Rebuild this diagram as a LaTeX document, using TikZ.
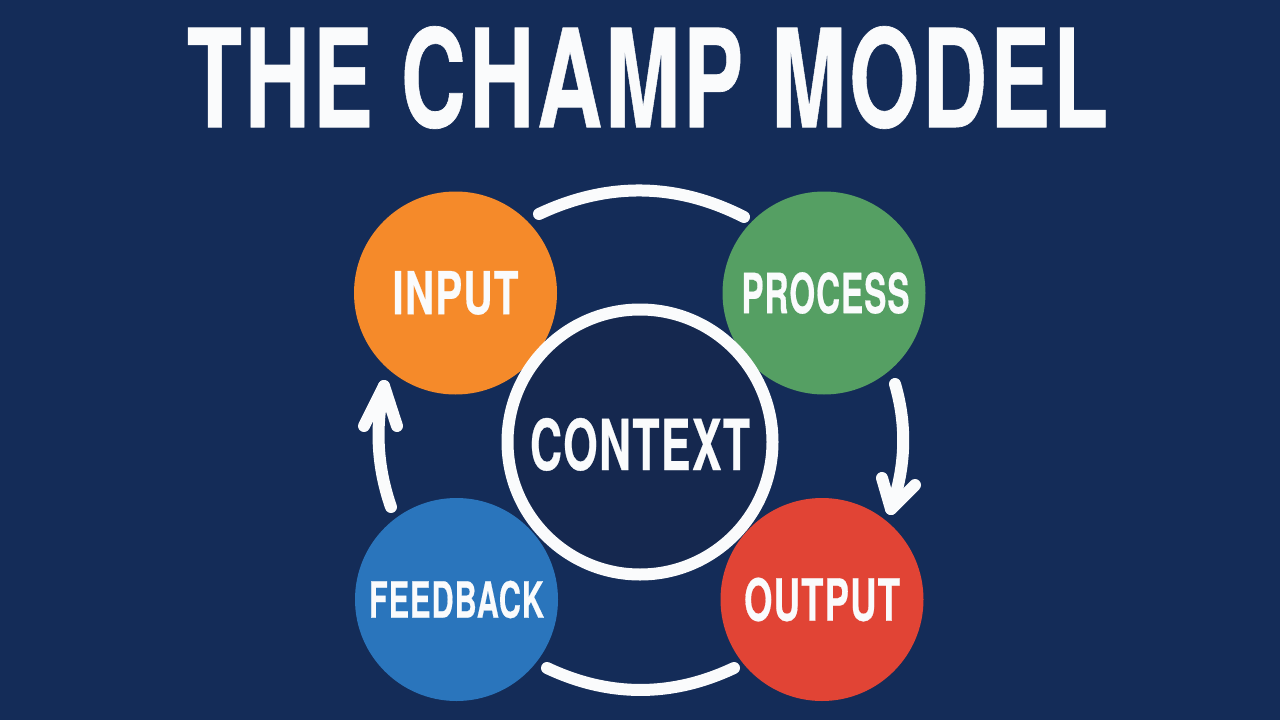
\documentclass[tikz,border=0pt]{standalone}
\usepackage{fontspec}
\usepackage{graphicx}
\setmainfont{TeX Gyre Heros}[BoldFeatures={FakeBold=0.5,LetterSpace=3}]
\definecolor{bgnavy}{HTML}{142C58}
\definecolor{ctxnavy}{HTML}{15284F}
\definecolor{cinput}{HTML}{F58A2A}
\definecolor{cprocess}{HTML}{559F63}
\definecolor{cfeedback}{HTML}{2A75BC}
\definecolor{coutput}{HTML}{E14435}
\definecolor{softwhite}{HTML}{FAFBFC}
\newcommand{\fit}[3]{\resizebox{#1pt}{#2pt}{\bfseries #3}}
\tikzset{
  phase/.style={circle,inner sep=0pt,minimum size=203pt,text=softwhite},
  ctxring/.style={circle,inner sep=0pt,minimum size=265pt,draw=softwhite,line width=12pt,fill=ctxnavy,text=softwhite},
  flow/.style={draw=softwhite,line width=12pt,line cap=round,line join=round},
  headline/.style={inner sep=0pt,text=softwhite}
}
\begin{document}
\begin{tikzpicture}[x=1pt,y=-1pt]
\fill[bgnavy] (0,0) rectangle (1280,720);
\useasboundingbox (0,0) rectangle (1280,720);
\node[headline] (title) at (647.5,77.5) {\fit{921}{101}{THE CHAMP MODEL}};
\node[phase,fill=cinput] (input) at (455.5,293) {\fit{126}{43}{INPUT}};
\node[phase,fill=cprocess] (process) at (824,293) {\kern3pt\fit{168}{41}{PROCESS}};
\node[phase,fill=cfeedback] (feedback) at (456.5,599.5) {\fit{175}{37}{FEEDBACK}};
\node[phase,fill=coutput] (output) at (822,599.5) {\fit{156}{43}{OUTPUT}};
\node[ctxring] (context) at (640,442) {\raisebox{-28pt}[0pt][0pt]{\fit{220}{52}{CONTEXT}}};
% free ends and curve handles
\coordinate (topA) at (539,214);
\coordinate (topC1) at (607,182);
\coordinate (topC2) at (676,182.3);
\coordinate (topB) at (744,217);
\coordinate (botA) at (547,668);
\coordinate (botC1) at (609,697.3);
\coordinate (botC2) at (672,697.3);
\coordinate (botB) at (734,668);
\coordinate (rStart) at (895,384);
\coordinate (rC1) at (907,425);
\coordinate (rC2) at (906,467);
\coordinate (rTip) at (891,509);
\coordinate (rBarbA) at (882,478);
\coordinate (rBarbB) at (915,485);
\coordinate (lStart) at (391,507);
\coordinate (lC1) at (377,467);
\coordinate (lC2) at (375,427);
\coordinate (lTip) at (384,386);
\coordinate (lBarbA) at (364,426);
\coordinate (lBarbB) at (397,426);
\draw[flow] (topA) .. controls (topC1) and (topC2) .. (topB);
\draw[flow] (botA) .. controls (botC1) and (botC2) .. (botB);
\draw[flow] (rStart) .. controls (rC1) and (rC2) .. (rTip);
\draw[flow] (rBarbA) -- (rTip) -- (rBarbB);
\draw[flow] (lStart) .. controls (lC1) and (lC2) .. (lTip);
\draw[flow] (lBarbA) -- (lTip) -- (lBarbB);
\end{tikzpicture}
\end{document}
